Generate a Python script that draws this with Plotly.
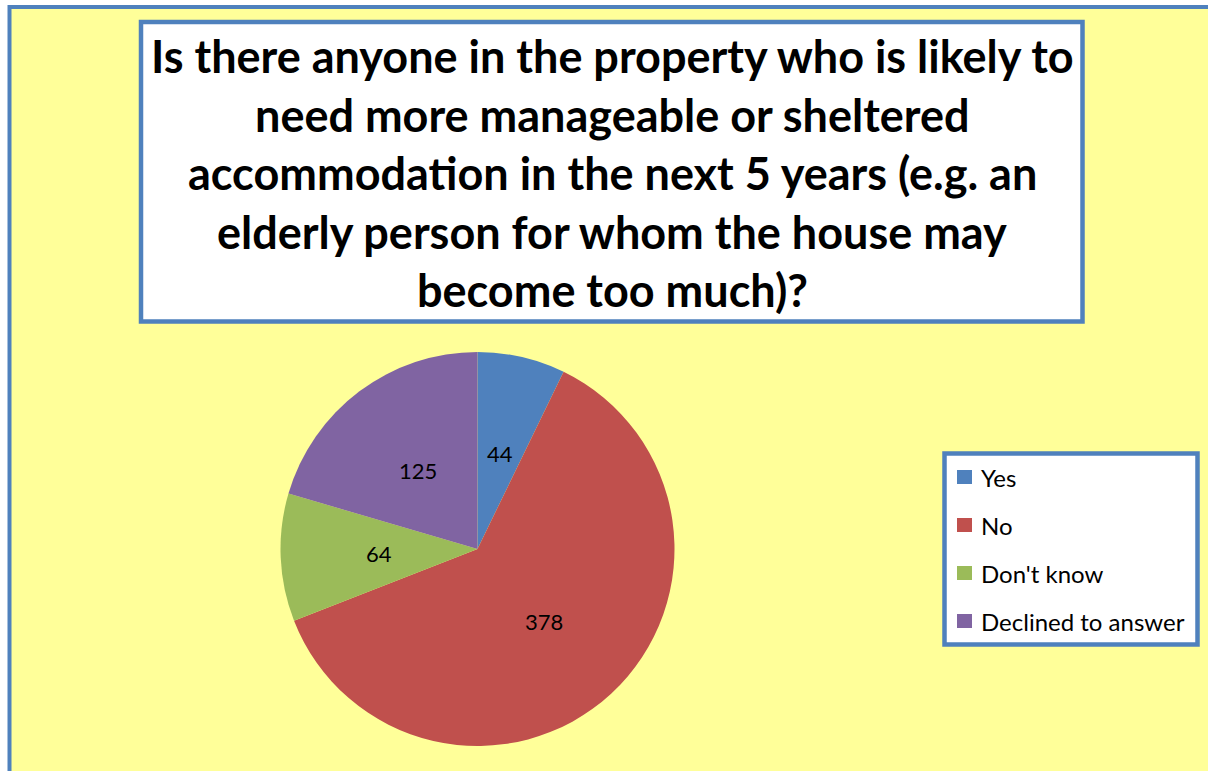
import math
import plotly.graph_objects as go

categories = ["Yes", "No", "Don't know", "Declined to answer"]
values = [44, 378, 64, 125]
colors = ["#4F81BD", "#C0504D", "#9BBB59", "#8064A2"]
title_lines = [
    "Is there anyone in the property who is likely to",
    "need more manageable or sheltered",
    "accommodation in the next 5 years (e.g. an",
    "elderly person for whom the house may",
    "become too much)?",
]

W, H = 1208, 771
FONT = "Lato"
BORDER = "#4F81BD"


def px(x):
    return x / W


def py(y):
    return 1 - y / H


# pie geometry (pixels)
cx, cy, R = 477.5, 549.0, 197.0

fig = go.Figure()
fig.add_trace(go.Pie(
    labels=categories,
    values=values,
    marker=dict(colors=colors, line=dict(width=0)),
    sort=False,
    direction="clockwise",
    rotation=0,
    textinfo="none",
    hoverinfo="label+value",
    showlegend=False,
    domain=dict(x=[px(cx - R), px(cx + R)], y=[py(cy + R), py(cy - R)]),
))

shapes = []
annotations = []

# outer yellow panel with blue border (top and left visible)
shapes.append(dict(type="rect", xref="paper", yref="paper",
                   x0=px(9.5), x1=px(W + 20), y0=py(H + 20), y1=py(7),
                   fillcolor="#FFFF99", line=dict(color=BORDER, width=4), layer="below"))
# title box
shapes.append(dict(type="rect", xref="paper", yref="paper",
                   x0=px(141), x1=px(1082.5), y0=py(321.5), y1=py(22),
                   fillcolor="white", line=dict(color=BORDER, width=4.5), layer="below"))
# legend box
shapes.append(dict(type="rect", xref="paper", yref="paper",
                   x0=px(944.5), x1=px(1197.5), y0=py(644.5), y1=py(453.5),
                   fillcolor="white", line=dict(color=BORDER, width=4.5), layer="below"))

# title lines
for i, line in enumerate(title_lines):
    annotations.append(dict(text=f"<b>{line}</b>", xref="paper", yref="paper",
                            x=px(612), y=py(56 + i * 58.5), xanchor="center", yanchor="middle",
                            showarrow=False, font=dict(family=FONT, size=45, color="black")))

# legend entries
for i, (cat, col) in enumerate(zip(categories, colors)):
    yc = 477 + i * 48
    shapes.append(dict(type="rect", xref="paper", yref="paper",
                       x0=px(957), x1=px(972), y0=py(yc + 7), y1=py(yc - 7),
                       fillcolor=col, line=dict(width=0)))
    annotations.append(dict(text=cat, xref="paper", yref="paper", x=px(979), y=py(yc),
                            xanchor="left", yanchor="middle", showarrow=False,
                            font=dict(family=FONT, size=24, color="black")))

# data labels at half radius in the middle of each slice
total = sum(values)
cum = 0
for v in values:
    mid = (cum + v / 2) / total * 2 * math.pi
    cum += v
    lx = cx + 0.5 * R * math.sin(mid)
    ly = cy - 0.5 * R * math.cos(mid)
    annotations.append(dict(text=str(v), xref="paper", yref="paper", x=px(lx), y=py(ly),
                            xanchor="center", yanchor="middle", showarrow=False,
                            font=dict(family=FONT, size=22, color="black")))

fig.update_layout(
    width=W, height=H,
    margin=dict(l=0, r=0, t=0, b=0),
    paper_bgcolor="white",
    plot_bgcolor="white",
    shapes=shapes,
    annotations=annotations,
)

fig.write_html("out.html", config={"displayModeBar": False},
               post_script="document.body.style.margin='0';document.body.style.overflow='hidden';")
